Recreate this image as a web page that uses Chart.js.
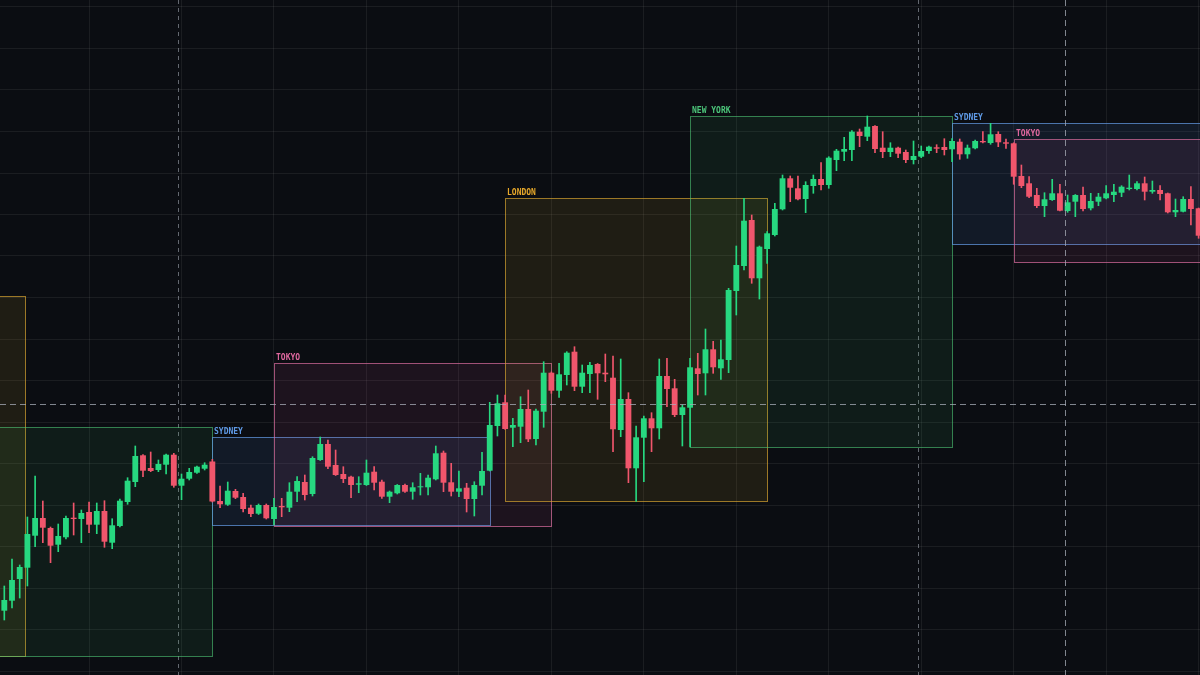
<!DOCTYPE html>
<html>
<head>
<meta charset="utf-8">
<title>Trading sessions</title>
<script src="https://cdn.jsdelivr.net/npm/chart.js@4.4.1/dist/chart.umd.min.js"></script>
<style>
  html, body { margin: 0; padding: 0; background: #0b0d12; }
  #wrap { width: 1200px; height: 675px; }
</style>
</head>
<body>
<div id="wrap"><canvas id="chart" width="1200" height="675"></canvas></div>
<script>
// 15 minute candles, index 0 = first visible bar
const open = [
  106.43, 107.43, 109.60, 110.73, 113.93, 115.70, 114.70, 113.03, 113.77, 115.73,
  115.60, 116.30, 115.03, 116.40, 113.23, 114.90, 117.30, 119.30, 121.97, 120.70,
  120.50, 121.03, 122.03, 118.93, 119.63, 120.23, 120.63, 121.35, 117.40, 117.03,
  118.40, 117.80, 116.73, 116.13, 117.00, 115.60, 116.90, 116.73, 118.33, 119.30,
  118.10, 121.50, 123.10, 121.00, 120.10, 119.83, 119.03, 119.00, 120.33, 119.33,
  117.83, 118.17, 119.00, 118.33, 118.77, 118.77, 119.57, 122.23, 119.27, 118.33,
  118.73, 117.60, 118.93, 120.43, 124.90, 127.27, 124.73, 124.83, 126.60, 123.60,
  126.33, 130.23, 128.43, 130.00, 132.33, 128.83, 130.10, 131.10, 130.23, 129.73,
  124.50, 127.60, 120.67, 123.73, 125.67, 124.67, 129.90, 128.67, 126.00, 126.73,
  130.67, 130.17, 132.57, 130.67, 131.50, 138.40, 140.90, 145.50, 139.67, 142.60,
  144.00, 146.57, 149.67, 148.67, 147.60, 148.90, 149.60, 149.00, 151.50, 152.33,
  152.50, 154.33, 153.83, 154.90, 152.73, 152.30, 152.73, 152.30, 151.50, 151.83,
  152.40, 152.77, 152.80, 152.57, 153.33, 152.07, 152.67, 153.40, 153.20, 154.10,
  153.27, 153.17, 149.90, 149.17, 148.00, 146.90, 147.50, 148.17, 146.40, 147.33,
  148.00, 146.67, 147.33, 147.67, 148.00, 148.23, 148.60, 148.60, 149.17, 148.33,
  148.50, 148.17, 146.27, 146.33, 147.60, 146.67
];
const high = [
  108.90, 111.60, 111.00, 115.80, 119.90, 117.40, 114.80, 115.10, 115.90, 117.20,
  116.50, 117.30, 117.20, 117.43, 115.63, 117.60, 119.73, 122.90, 122.05, 122.30,
  121.50, 122.10, 122.17, 120.10, 120.67, 120.90, 121.23, 121.57, 118.90, 119.30,
  118.57, 118.17, 117.00, 117.10, 117.10, 117.67, 117.67, 119.23, 119.83, 120.00,
  121.83, 123.80, 123.50, 122.50, 120.83, 119.90, 119.83, 121.50, 120.83, 119.50,
  118.40, 119.05, 119.10, 119.23, 120.17, 120.00, 122.90, 122.40, 121.17, 120.40,
  119.17, 119.33, 122.27, 127.27, 128.00, 128.00, 125.67, 127.83, 128.50, 126.60,
  131.33, 130.30, 131.17, 132.33, 132.83, 131.00, 131.27, 131.15, 132.10, 131.90,
  131.60, 128.23, 124.90, 125.90, 126.23, 131.60, 131.67, 129.57, 127.00, 131.67,
  132.17, 134.60, 133.37, 133.50, 138.67, 142.90, 147.67, 146.00, 142.90, 144.33,
  147.17, 150.00, 149.90, 149.90, 149.33, 150.00, 151.23, 151.83, 152.57, 153.77,
  154.43, 154.60, 155.90, 154.95, 154.33, 153.23, 152.80, 152.50, 153.40, 152.90,
  152.90, 153.03, 153.63, 153.65, 153.60, 153.00, 153.50, 154.33, 155.17, 154.33,
  153.60, 153.22, 151.00, 149.83, 148.67, 148.23, 149.57, 149.07, 148.00, 148.05,
  148.80, 148.17, 148.17, 148.93, 149.07, 148.93, 150.00, 149.33, 149.80, 149.40,
  148.93, 148.20, 147.60, 147.83, 148.83, 146.70
];
const low = [
  105.50, 106.70, 107.70, 108.90, 112.83, 113.23, 111.23, 112.33, 113.60, 114.00,
  113.23, 114.23, 114.13, 112.77, 112.63, 114.80, 117.07, 118.83, 119.83, 120.33,
  120.33, 120.10, 118.77, 117.53, 119.50, 120.15, 120.50, 117.30, 116.73, 116.95,
  117.63, 116.30, 115.83, 116.05, 115.60, 115.00, 115.83, 116.33, 117.33, 117.50,
  117.90, 121.45, 120.63, 119.95, 119.23, 117.73, 118.23, 118.95, 118.50, 117.67,
  117.23, 118.10, 118.25, 117.57, 118.00, 118.00, 119.50, 118.33, 117.90, 117.83,
  116.30, 115.90, 118.00, 120.40, 123.90, 124.55, 122.83, 123.23, 123.33, 123.00,
  124.77, 128.17, 127.77, 129.00, 128.43, 128.23, 128.23, 127.57, 129.33, 122.33,
  123.83, 119.23, 117.35, 119.33, 122.33, 123.60, 126.83, 125.83, 122.90, 122.80,
  128.00, 128.00, 130.17, 129.57, 130.23, 136.00, 140.50, 139.17, 137.60, 141.17,
  143.90, 146.50, 147.33, 147.52, 146.23, 148.17, 148.50, 148.67, 150.43, 151.43,
  151.43, 152.83, 153.43, 152.23, 151.73, 151.83, 151.73, 151.23, 151.10, 151.73,
  152.17, 152.23, 152.00, 151.33, 151.57, 151.67, 152.60, 153.22, 153.07, 152.83,
  152.67, 149.07, 148.73, 147.73, 146.73, 145.83, 147.45, 146.40, 146.27, 145.83,
  146.40, 146.50, 146.93, 147.60, 147.33, 147.83, 148.50, 148.50, 147.50, 148.17,
  147.50, 146.20, 145.83, 146.30, 145.00, 143.67
];
const close = [
  107.50, 109.50, 110.80, 114.10, 115.70, 114.73, 112.93, 113.90, 115.70, 115.60,
  116.20, 115.03, 116.40, 113.33, 114.97, 117.43, 119.43, 121.90, 120.43, 120.40,
  121.10, 122.03, 118.93, 119.63, 120.30, 120.83, 121.03, 117.35, 117.07, 118.43,
  117.73, 116.60, 116.10, 117.00, 115.67, 116.80, 116.77, 118.33, 119.40, 118.00,
  121.70, 123.10, 120.83, 120.00, 119.60, 119.00, 119.17, 120.23, 119.23, 117.83,
  118.33, 119.00, 118.33, 118.77, 118.83, 119.73, 122.17, 119.23, 118.33, 118.67,
  117.60, 119.00, 120.40, 125.00, 127.17, 124.60, 125.00, 126.60, 123.57, 126.43,
  130.23, 128.43, 130.07, 132.23, 128.83, 130.23, 131.00, 130.17, 130.07, 124.57,
  127.60, 120.67, 123.77, 125.67, 124.67, 129.90, 128.60, 126.00, 126.77, 130.77,
  130.10, 132.57, 130.77, 131.57, 138.50, 141.00, 145.43, 139.67, 142.83, 144.17,
  146.60, 149.67, 148.73, 147.57, 149.00, 149.60, 149.00, 151.73, 152.43, 152.60,
  154.33, 153.90, 154.83, 152.60, 152.30, 152.73, 152.13, 151.50, 151.90, 152.40,
  152.83, 152.63, 152.50, 153.40, 152.07, 152.73, 153.40, 153.27, 154.07, 153.27,
  153.13, 149.83, 148.90, 147.83, 146.90, 147.57, 148.17, 146.43, 147.27, 148.00,
  146.60, 147.40, 147.83, 148.17, 148.33, 148.83, 148.73, 149.17, 148.33, 148.50,
  148.10, 146.27, 146.50, 147.60, 146.60, 143.93
];

// trading sessions (bar index range and session high / low)
const sessionNames = ['LONDON', 'NEW YORK', 'SYDNEY', 'TOKYO', 'LONDON', 'NEW YORK', 'SYDNEY', 'TOKYO'];
const sessionStart = [-31.3, -7, 27, 35, 65, 89, 123, 131];
const sessionEnd   = [2.7, 27, 63, 71, 99, 123, 159, 167];
const sessionHigh  = [137.90, 124.80, 123.80, 131.20, 147.70, 155.90, 155.20, 153.60];
const sessionLow   = [101.90, 101.90, 115.00, 114.90, 117.40, 122.80, 143.10, 141.30];

// day breaks and crosshair position
const dayBreaks = [22.5, 118.6];
const crossX = 137.7;
const crossY = 127.10;

// grid positions
const xTicks = [11, 23, 35, 47, 59, 71, 83, 95, 107, 119, 131, 143, 155];
const yTicks = [166.8, 162.65, 158.5, 154.35, 150.2, 146.05, 141.9, 137.75, 133.6,
  129.45, 125.3, 121.15, 117.0, 112.85, 108.7, 104.55, 100.4];

const UP = '#27d880';
const DOWN = '#f0566c';

const sessionStyle = {
  'SYDNEY':   { line: 'rgba(96,150,220,0.75)', fill: 'rgba(70,120,200,0.12)', text: '#5f9ae6' },
  'TOKYO':    { line: 'rgba(220,110,160,0.70)', fill: 'rgba(200,80,140,0.10)', text: '#e0689f' },
  'LONDON':   { line: 'rgba(214,164,48,0.70)', fill: 'rgba(200,160,40,0.11)', text: '#e7a82a' },
  'NEW YORK': { line: 'rgba(80,200,120,0.60)', fill: 'rgba(60,190,100,0.09)', text: '#4cc57a' }
};

const idx = open.map((_, i) => i);
const colors = idx.map(i => close[i] >= open[i] ? UP : DOWN);

const sessionPlugin = {
  id: 'sessions',
  beforeDatasetsDraw(chart) {
    const { ctx, chartArea, scales: { x, y } } = chart;
    ctx.save();
    ctx.beginPath();
    ctx.rect(chartArea.left, chartArea.top, chartArea.right - chartArea.left, chartArea.bottom - chartArea.top);
    ctx.clip();

    // day separators
    ctx.strokeStyle = 'rgba(160,165,175,0.6)';
    ctx.lineWidth = 1;
    ctx.setLineDash([4, 4]);
    dayBreaks.forEach(d => {
      const px = Math.round(x.getPixelForValue(d)) + 0.5;
      ctx.beginPath();
      ctx.moveTo(px, chartArea.top);
      ctx.lineTo(px, chartArea.bottom);
      ctx.stroke();
    });
    ctx.setLineDash([]);

    sessionNames.forEach((name, i) => {
      const st = sessionStyle[name];
      const left = Math.round(x.getPixelForValue(sessionStart[i])) + 0.5;
      const right = Math.round(x.getPixelForValue(sessionEnd[i])) + 0.5;
      const top = Math.round(y.getPixelForValue(sessionHigh[i])) + 0.5;
      const bottom = Math.round(y.getPixelForValue(sessionLow[i])) + 0.5;
      ctx.fillStyle = st.fill;
      ctx.fillRect(left, top, right - left, bottom - top);
      ctx.strokeStyle = st.line;
      ctx.lineWidth = 1;
      ctx.strokeRect(left, top, right - left, bottom - top);

      ctx.fillStyle = st.text;
      ctx.font = 'bold 8px "DejaVu Sans Mono", monospace';
      ctx.textBaseline = 'bottom';
      ctx.textAlign = 'left';
      ctx.fillText(name, left + 1.5, top - 2);
    });
    ctx.restore();
  },
  afterDraw(chart) {
    const { ctx, chartArea, scales: { x, y } } = chart;
    ctx.save();
    ctx.strokeStyle = 'rgba(170,175,185,0.75)';
    ctx.lineWidth = 1;
    ctx.setLineDash([6, 4]);
    const px = Math.round(x.getPixelForValue(crossX)) + 0.5;
    const py = Math.round(y.getPixelForValue(crossY)) + 0.5;
    ctx.beginPath();
    ctx.moveTo(px, chartArea.top);
    ctx.lineTo(px, chartArea.bottom);
    ctx.moveTo(chartArea.left, py);
    ctx.lineTo(chartArea.right, py);
    ctx.stroke();
    ctx.restore();
  }
};

const gridColor = 'rgba(255,255,255,0.065)';

new Chart(document.getElementById('chart'), {
  type: 'bar',
  data: {
    datasets: [
      {
        label: 'wick',
        data: idx.map(i => ({ x: i, y: [low[i], high[i]] })),
        backgroundColor: colors,
        barThickness: 1,
        grouped: false,
        order: 2
      },
      {
        label: 'body',
        data: idx.map(i => ({ x: i, y: [open[i], close[i]] })),
        backgroundColor: colors,
        barPercentage: 0.76,
        categoryPercentage: 1,
        minBarLength: 1,
        grouped: false,
        order: 1
      }
    ]
  },
  options: {
    responsive: false,
    animation: false,
    layout: { padding: 0 },
    plugins: {
      legend: { display: false },
      tooltip: { enabled: false }
    },
    scales: {
      x: {
        type: 'linear',
        min: -0.558,
        max: 155.18,
        offset: false,
        grid: { color: gridColor, offset: false, drawTicks: false },
        border: { display: false },
        ticks: { display: false },
        afterBuildTicks: scale => { scale.ticks = xTicks.map(v => ({ value: v })); }
      },
      y: {
        type: 'linear',
        min: 100,
        max: 167.5,
        grid: { color: gridColor, drawTicks: false },
        border: { display: false },
        ticks: { display: false },
        afterBuildTicks: scale => { scale.ticks = yTicks.map(v => ({ value: v })); }
      }
    }
  },
  plugins: [sessionPlugin]
});
</script>
</body>
</html>
